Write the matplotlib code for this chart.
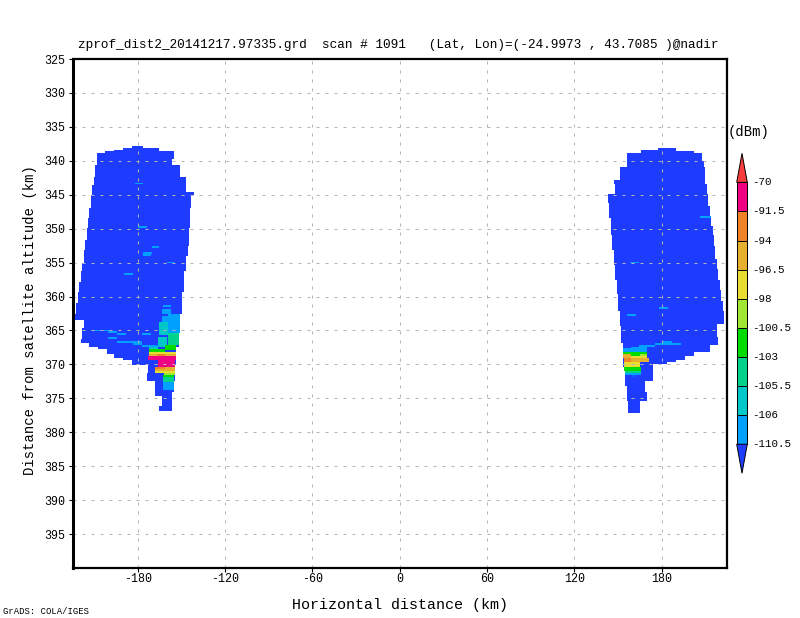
import numpy as np
import matplotlib
matplotlib.use("Agg")
import matplotlib.pyplot as plt

plt.rcParams['font.family'] = ['Liberation Mono', 'DejaVu Sans']
plt.rcParams['axes.unicode_minus'] = False

# colour levels, lowest first (below -110.5 up to above -70)
level_colors = ["#1e3cff", "#00a0ff", "#00c8c8", "#00d28c", "#00dc00", "#a0e632",
                "#e6dc32", "#e6af2d", "#f08228", "#f00082", "#fa3c3c"]
level_labels = ["-110.5", "-106", "-105.5", "-103", "-100.5", "-98",
                "-96.5", "-94", "-91.5", "-70"]

x_ticks = [-180, -120, -60, 0, 60, 120, 180]
y_ticks = list(range(325, 400, 5))

# weak echo outline, left side: row edges in km, then left and right limit per row
left_alt = [337.8, 338.1, 338.4, 338.5, 338.8, 339.7, 340.6, 342.4, 343.5, 344.6,
            345, 346.9, 348.4, 349.9, 351.6, 352.6, 353.1, 354, 355, 356.3,
            357.9, 359.4, 360.9, 362.6, 363.5, 364.6, 366.2, 366.8, 367.5, 367.8,
            368.5, 369, 369.3, 370.1, 371.2, 372.4, 374, 374.6, 376.2, 376.8]
left_lo = [-183.8, -190, -196.2, -202.4, -207.9, -207.9, -209.3, -209.9, -211.3, -211.3,
           -212, -213.4, -214, -214.8, -216.1, -216.1, -216.8, -216.8, -218.2, -218.9,
           -220.3, -221, -222.3, -223, -216.8, -218.2, -218.9, -213.4, -207.2, -201,
           -196.2, -190, -183.8, -172.8, -174.1, -168.6, -168.6, -163.8, -165.2]
left_hi = [-176.2, -165.2, -165.2, -154.9, -154.9, -156.3, -151.4, -147.3, -147.3, -141.8,
           -143.2, -143.9, -143.9, -145.2, -145.2, -145.9, -145.9, -147.3, -147.3, -148,
           -148, -149.4, -149.4, -151.4, -151.4, -152.1, -152.1, -152.1, -153.5, -153.5,
           -153.5, -153.5, -153.5, -154.2, -154.2, -154.9, -156.3, -156.3, -156.9]

# same for the right side
right_alt = [338.1, 338.4, 338.5, 338.8, 340.1, 340.9, 342.8, 343.4, 344.9, 346.2,
             346.6, 348.5, 349.6, 351, 352.6, 353.2, 354.4, 355.4, 355.9, 357.6,
             359.1, 359.7, 360.6, 362.1, 364, 364.3, 365.9, 366.8, 367.2, 368.1,
             368.8, 369.3, 369.6, 370, 370.4, 372.5, 373.2, 374.1, 375.4, 377.1]
right_lo = [177.6, 165.9, 165.9, 156.3, 156.3, 151.4, 147.3, 148, 143.2, 143.9,
            143.9, 145.2, 145.2, 145.9, 145.9, 147.3, 147.3, 148, 148, 149.4,
            149.4, 150.1, 150.1, 151.4, 151.4, 152.1, 152.1, 153.5, 153.5, 153.5,
            153.5, 153.5, 153.5, 153.5, 154.9, 154.9, 156.3, 156.3, 156.9]
right_hi = [190, 190, 202.4, 207.9, 209.3, 209.9, 209.9, 211.3, 212, 212,
            213.4, 214.1, 215.4, 216.1, 216.8, 216.8, 218.2, 218.2, 218.9, 220.3,
            221, 221, 222.3, 223, 218.2, 218.2, 218.9, 218.9, 213.4, 202.4,
            196.2, 190, 183.8, 174.1, 174.1, 168.6, 168.6, 170, 165.2]

# stronger cells, painted in this order over the outline
cell_top = [343.2, 349.6, 352.6, 353.4, 353.8, 354.9, 356.6, 361.2, 361.9, 362.6, 362.9,
            363.8, 365.4, 365.9, 367.1, 367.4, 367.8, 368.1, 368.4, 368.4, 368.8, 369.4,
            370.4, 370.4, 370.7, 371, 371.3, 371.6, 371.9, 372.6,
            364.9, 365.1, 365.4, 365.4, 365.9, 366.2, 366.6, 366.9, 367.1,
            348.1, 354.9, 361.6, 362.6, 366.6, 366.9, 366.9, 367.1, 367.4, 367.6,
            368.1, 368.4, 368.4, 368.7, 368.4, 369.1, 369.1, 369.7, 370.4, 370.9, 371.2, 371.6]
cell_bot = [343.4, 349.9, 352.8, 353.7, 354.1, 355.1, 356.9, 361.6, 362.6, 365.4, 363.8,
            365.6, 367.1, 367.5, 367.9, 367.8, 368.1, 368.4, 368.8, 368.8, 369.4, 370.4,
            370.7, 370.7, 371.3, 371.3, 371.6, 371.9, 372.6, 373.7,
            365.1, 365.4, 365.6, 365.6, 366.2, 366.3, 366.9, 367.2, 367.4,
            348.4, 355.1, 361.9, 362.9, 366.9, 367.1, 367.2, 367.4, 367.6, 368.1,
            368.4, 368.7, 368.7, 369, 369, 369.7, 369.7, 370.4, 370.9, 371.2, 371.6, 371.9]
cell_lo = [-181.7, -179.7, -170, -176.2, -176.2, -159.7, -189.3, -163.1, -163.8, -159, -163.8,
           -165.2, -159, -165.9, -161.1, -172.1, -172.1, -172.1, -172.1, -166.6, -172.8, -165.9,
           -168, -161.1, -168, -168, -161.8, -163.1, -163.1, -163.1,
           -212, -200.3, -194.1, -176.9, -200.3, -194.1, -194.1, -183.1, -176.9,
           206.5, 158.3, 178.3, 156.3, 181, 181, 175.5, 164.5, 159, 153.5,
           153.5, 154.2, 165.2, 154.2, 153.5, 159, 154.2, 154.2, 154.2, 154.9, 154.9, 160.4]
cell_hi = [-176.2, -174.1, -165.2, -170, -170.7, -154.9, -183.1, -157.6, -157.6, -151.4, -159,
           -159, -152.1, -159.7, -153.5, -165.9, -161.1, -153.5, -153.5, -161.1, -153.5, -154.2,
           -161.1, -154.2, -154.2, -154.2, -154.2, -154.9, -154.9, -154.9,
           -198.9, -194.1, -187.9, -170.7, -194.1, -183.1, -176.9, -176.9, -165.2,
           214.1, 164.5, 184.5, 162.5, 187.2, 193.4, 181, 175.5, 170, 170,
           170, 165.2, 170, 170, 159, 171.4, 159, 165.2, 165.9, 165.9, 165.9, 161.1]
cell_level = [1, 1, 1, 1, 1, 1, 1, 1, 1, 1, 1,
              2, 3, 2, 4, 2, 4, 6, 7, 8, 9, 9,
              8, 7, 7, 6, 5, 4, 3, 1,
              1, 1, 1, 1, 1, 1, 1, 1, 1,
              1, 1, 1, 1, 1, 1, 1, 1, 1, 1,
              4, 4, 5, 6, 7, 7, 8, 6, 4, 3, 1, 1]

title = "zprof_dist2_20141217.97335.grd  scan # 1091   (Lat, Lon)=(-24.9973 , 43.7085 )@nadir"

W, H = 800, 618
fig = plt.figure(figsize=(W / 100, H / 100), dpi=100)
ax = fig.add_axes([72.5 / W, 1 - 568 / H, 654.5 / W, 509 / H])


def draw_rows(alt, lo, hi):
    alt = np.array(alt)
    lo = np.array(lo)
    hi = np.array(hi)
    ax.barh((alt[:-1] + alt[1:]) / 2, hi - lo, height=np.diff(alt), left=lo,
            color=level_colors[0], linewidth=0, antialiased=False)


draw_rows(left_alt, left_lo, left_hi)
draw_rows(right_alt, right_lo, right_hi)

# cells one at a time so the paint order is kept
for t, b, lo, hi, lev in zip(cell_top, cell_bot, cell_lo, cell_hi, cell_level):
    ax.barh((t + b) / 2, hi - lo, height=b - t, left=lo, color=level_colors[lev],
            linewidth=0, antialiased=False)

ax.set_xlim(-225, 225)
ax.set_ylim(400, 325)
ax.set_xticks(x_ticks)
ax.set_xticklabels([str(v) for v in x_ticks], fontsize=8.4)
ax.set_yticks(y_ticks)
ax.set_yticklabels([str(v) for v in y_ticks], fontsize=8.4)
ax.tick_params(length=3, width=0.8, pad=2)
ax.tick_params(axis='x', pad=0.5)
ax.grid(color="#b4b4b4", linewidth=0.72, linestyle=(0, (3, 6)))
for s in ax.spines.values():
    s.set_linewidth(1.6)
ax.spines['left'].set_linewidth(2.2)

fig.text(78 / W, 1 - 45 / H, title, fontsize=9.2, va='center', ha='left')
fig.text(400 / W, 1 - 605 / H, "Horizontal distance (km)", fontsize=10.8, va='center', ha='center')
fig.text(30 / W, 1 - 320 / H, "Distance from satellite altitude (km)", fontsize=10,
         va='center', ha='center', rotation=90)
fig.text(3 / W, 1 - 611 / H, "GrADS: COLA/IGES", fontsize=6.4, va='center', ha='left')
fig.text(728 / W, 1 - 132 / H, "(dBm)", fontsize=10, va='center', ha='left')

# colour key: equal boxes plus the two end triangles
cax = fig.add_axes([736.7 / W, 1 - 473.3 / H, 10.6 / W, 320 / H])
cax.set_xlim(0, 1)
cax.set_ylim(-1, 10)
cax.axis('off')
for i in range(9):
    cax.bar(0.5, 1, width=1, bottom=i, color=level_colors[i + 1], edgecolor="black",
            linewidth=0.7, clip_on=False)
cax.fill([0, 1, 0.5], [9, 9, 10], color=level_colors[-1], ec="black", lw=0.7, clip_on=False)
cax.fill([0, 1, 0.5], [0, 0, -1], color=level_colors[0], ec="black", lw=0.7, clip_on=False)
for i, lab in enumerate(level_labels):
    cax.text(1.5, i, lab, fontsize=7.8, va='center', ha='left', clip_on=False)

fig.savefig("out.png", dpi=100)
